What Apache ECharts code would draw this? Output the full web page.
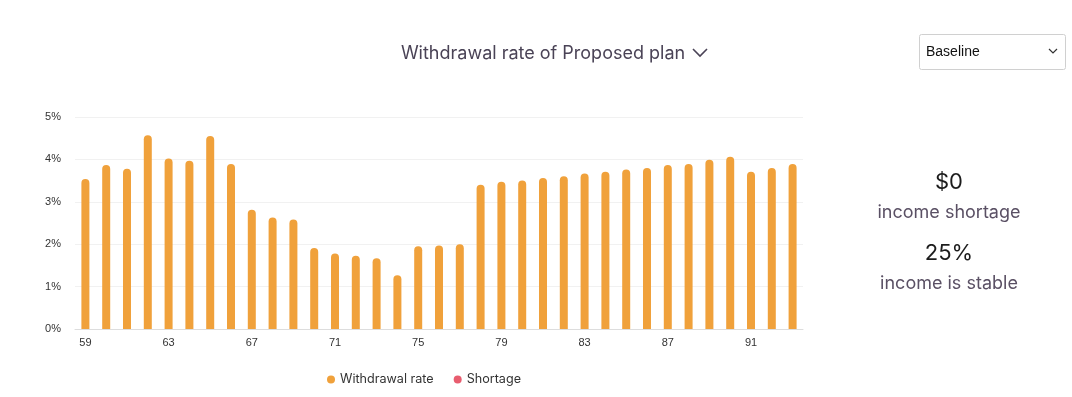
<!DOCTYPE html>
<html>
<head>
<meta charset="utf-8">
<script src="https://cdn.jsdelivr.net/npm/echarts@6/dist/echarts.min.js"></script>
<style>
html,body{margin:0;padding:0;background:#fff;}
#chart{width:1072px;height:397px;}
</style>
</head>
<body>
<div id="chart"></div>
<script>
const ages = [59,60,61,62,63,64,65,66,67,68,69,70,71,72,73,74,75,76,77,78,79,80,81,82,83,84,85,86,87,88,89,90,91,92,93];
const withdrawalRate = [3.54,3.87,3.78,4.57,4.02,3.97,4.55,3.89,2.81,2.63,2.58,1.91,1.78,1.73,1.67,1.27,1.95,1.97,2.00,3.40,3.47,3.50,3.56,3.60,3.67,3.71,3.76,3.80,3.87,3.89,3.99,4.06,3.71,3.80,3.89];
const shortage = [];
const yTicks = [0,1,2,3,4,5];
const titleText = 'Withdrawal rate of Proposed plan';
const dropdownText = 'Baseline';
const stats = ['$0','income shortage','25%','income is stable'];

const chart = echarts.init(document.getElementById('chart'));
chart.setOption({
  animation:false,
  backgroundColor:'#fff',
  grid:{left:75,right:269,top:117,bottom:68,containLabel:false},
  legend:{
    data:['Withdrawal rate','Shortage'],
    left:322, top:368,
    icon:'circle', itemWidth:8, itemHeight:8, itemGap:20,
    textStyle:{fontFamily:'Inter',fontSize:12.6,color:'#333'}
  },
  xAxis:{
    type:'category', data:ages,
    axisLine:{lineStyle:{color:'#ddd'}},
    axisTick:{show:false},
    axisLabel:{interval:3,color:'#333',fontSize:11,fontFamily:'Liberation Sans',margin:8}
  },
  yAxis:{
    type:'value', min:yTicks[0], max:yTicks[yTicks.length-1], interval:1,
    axisLabel:{formatter:'{value}%',color:'#333',fontSize:11,fontFamily:'Liberation Sans',margin:14},
    splitLine:{lineStyle:{color:'#f1f1f1'}},
    axisLine:{show:false}, axisTick:{show:false}
  },
  series:[
    {name:'Withdrawal rate',type:'bar',data:withdrawalRate,barWidth:8,stack:'a',
     itemStyle:{color:'#F0A13B',borderRadius:[4,4,0,0]}},
    {name:'Shortage',type:'bar',data:shortage,barWidth:8,stack:'a',
     itemStyle:{color:'#E85D6F'}}
  ],
  graphic:[
    {type:'text',style:{text:titleText,x:543,y:54,align:'center',verticalAlign:'middle',font:'18px Inter',fill:'#4a4356'}},
    {type:'polyline',shape:{points:[[693,49],[700,56],[707,49]]},style:{stroke:'#4a4356',lineWidth:1.6,fill:null}},
    {type:'rect',shape:{x:919.5,y:34.5,width:146,height:35,r:2},style:{fill:'#fff',stroke:'#d0d0d0',lineWidth:1}},
    {type:'text',style:{text:dropdownText,x:926,y:52,verticalAlign:'middle',font:'14px Liberation Sans',fill:'#111'}},
    {type:'polyline',shape:{points:[[1049,49],[1053,53],[1057,49]]},style:{stroke:'#333',lineWidth:1.2,fill:null}},
    {type:'text',style:{text:stats[0],x:949,y:182,align:'center',verticalAlign:'middle',font:'22px Inter',fill:'#1c1c1c'}},
    {type:'text',style:{text:stats[1],x:949,y:213,align:'center',verticalAlign:'middle',font:'18px Inter',fill:'#5a5064'}},
    {type:'text',style:{text:stats[2],x:949,y:253,align:'center',verticalAlign:'middle',font:'22px Inter',fill:'#1c1c1c'}},
    {type:'text',style:{text:stats[3],x:949,y:284,align:'center',verticalAlign:'middle',font:'18px Inter',fill:'#5a5064'}}
  ]
});
</script>
</body>
</html>
